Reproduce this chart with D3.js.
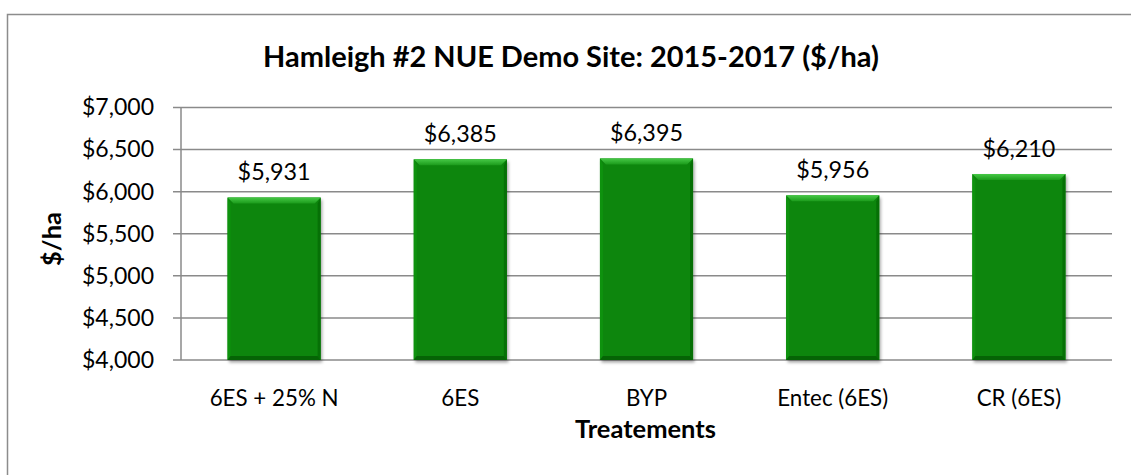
<!DOCTYPE html>
<html><head><meta charset="utf-8">
<script src="https://cdn.jsdelivr.net/npm/d3@7"></script>
<style>body{margin:0;background:#fff}svg{display:block}text{font-family:Lato,"Open Sans",sans-serif;fill:#000}</style>
</head><body>
<svg id="c" width="1131" height="475"></svg>
<script>
const categories = ["6ES + 25% N", "6ES", "BYP", "Entec (6ES)", "CR (6ES)"];
const values = [5931, 6385, 6395, 5956, 6210];
const yTicks = [4000, 4500, 5000, 5500, 6000, 6500, 7000];
const title = "Hamleigh #2 NUE Demo Site: 2015-2017 ($/ha)";
const xTitle = "Treatements";
const yTitle = "$/ha";

const svg = d3.select("#c");
const m = {left:181, right:1112, top:107.5, bottom:360};

// measure helper: font size so that the given string has the target width
function fitSize(str, target, weight){
  const t = svg.append("text").style("font-size","100px").style("font-weight",weight||"normal").text(str);
  const w = t.node().getComputedTextLength(); t.remove();
  return 100*target/w;
}
const fsTick = fitSize("$7,000", 72);
const fsCat = fitSize("6ES + 25% N", 129);
const fsLab = fitSize("$5,931", 73);
const fsTitle = fitSize(title, 616, "bold");
const fsXT = fitSize(xTitle, 141, "bold");

// chart border (right/bottom edges lie outside the picture)
svg.append("rect").attr("x",7.5).attr("y",14.5).attr("width",1140).attr("height",480)
  .attr("fill","#fff").attr("stroke","#8c8c8c").attr("stroke-width",1.5);

const defs = svg.append("defs");
const f = defs.append("filter").attr("id","sh").attr("x","-20%").attr("y","-10%").attr("width","140%").attr("height","130%");
f.append("feDropShadow").attr("dx",1.5).attr("dy",2.5).attr("stdDeviation",1.8).attr("flood-color","#000").attr("flood-opacity",0.35);
const gt = defs.append("linearGradient").attr("id","gtop").attr("x1",0).attr("y1",0).attr("x2",0).attr("y2",1);
gt.append("stop").attr("offset",0).attr("stop-color","#46c846");
gt.append("stop").attr("offset",1).attr("stop-color","#1b9b1b");

const x = d3.scaleBand().domain(categories).range([m.left, m.right]).paddingInner(0.5).paddingOuter(0.25);
const y = d3.scaleLinear().domain([4000,7000]).range([m.bottom, m.top]);
const fmt = d3.format("$,");

// gridlines
svg.append("g").selectAll("line").data(yTicks).join("line")
  .attr("x1",m.left-8).attr("x2",m.right).attr("y1",d=>y(d)).attr("y2",d=>y(d))
  .attr("stroke","#8a8a8a").attr("stroke-width",1.5);
svg.append("line").attr("x1",m.left).attr("x2",m.left).attr("y1",m.top).attr("y2",m.bottom)
  .attr("stroke","#8a8a8a").attr("stroke-width",1.5);

// y tick labels
const yAxis = d3.axisLeft(y).tickValues(yTicks).tickFormat(fmt).tickSize(0).tickPadding(27);
const ya = svg.append("g").attr("transform",`translate(${m.left},0)`).call(yAxis);
ya.select(".domain").remove();
ya.selectAll("text").style("font-family","Lato,sans-serif").style("font-size",fsTick+"px").attr("fill","#000");

// x tick labels
const xAxis = d3.axisBottom(x).tickSize(0).tickPadding(0);
const xa = svg.append("g").attr("transform",`translate(0,${m.bottom})`).call(xAxis);
xa.select(".domain").remove();
xa.selectAll("text").style("font-family","Lato,sans-serif").style("font-size",fsCat+"px").attr("fill","#000")
  .attr("y",46).attr("dy",0);

// bars with bevel
const bw = x.bandwidth();
const bev = 6;
const bars = svg.append("g").selectAll("g").data(values).join("g");
bars.append("rect").attr("x",(d,i)=>x(categories[i])).attr("y",d=>y(d))
  .attr("width",bw).attr("height",d=>y(4000)-y(d)).attr("fill","#078607").attr("filter","url(#sh)");
bars.append("path").attr("d",(d,i)=>{const x0=x(categories[i]),y0=y(d);return `M${x0},${y0}L${x0+bw},${y0}L${x0+bw-bev},${y0+bev}L${x0+bev},${y0+bev}Z`;}).attr("fill","url(#gtop)");
bars.append("path").attr("d",(d,i)=>{const x0=x(categories[i]),y0=y(d),y1=y(4000);return `M${x0},${y0}L${x0+3},${y0+bev}L${x0+3},${y1-4}L${x0},${y1}Z`;}).attr("fill","#0e920e");
bars.append("path").attr("d",(d,i)=>{const x0=x(categories[i])+bw,y0=y(d),y1=y(4000);return `M${x0},${y0}L${x0-3},${y0+bev}L${x0-3},${y1-4}L${x0},${y1}Z`;}).attr("fill","#067006");
bars.append("path").attr("d",(d,i)=>{const x0=x(categories[i]),y1=y(4000);return `M${x0},${y1}L${x0+3},${y1-4}L${x0+bw-3},${y1-4}L${x0+bw},${y1}Z`;}).attr("fill","#056405");

// data labels
svg.append("g").selectAll("text").data(values).join("text")
  .attr("x",(d,i)=>x(categories[i])+bw/2).attr("y",d=>y(d)-17)
  .attr("text-anchor","middle").style("font-size",fsLab+"px").text(d=>fmt(d));

// titles
svg.append("text").attr("x",571).attr("y",67).attr("text-anchor","middle")
  .style("font-size",fsTitle+"px").style("font-weight","bold").text(title);
svg.append("text").attr("x",645.5).attr("y",438).attr("text-anchor","middle")
  .style("font-size",fsXT+"px").style("font-weight","bold").text(xTitle);
svg.append("text").attr("transform","translate(61,239) rotate(-90)").attr("text-anchor","middle")
  .style("font-size",fsXT+"px").style("font-weight","bold").text(yTitle);
</script>
</body></html>
